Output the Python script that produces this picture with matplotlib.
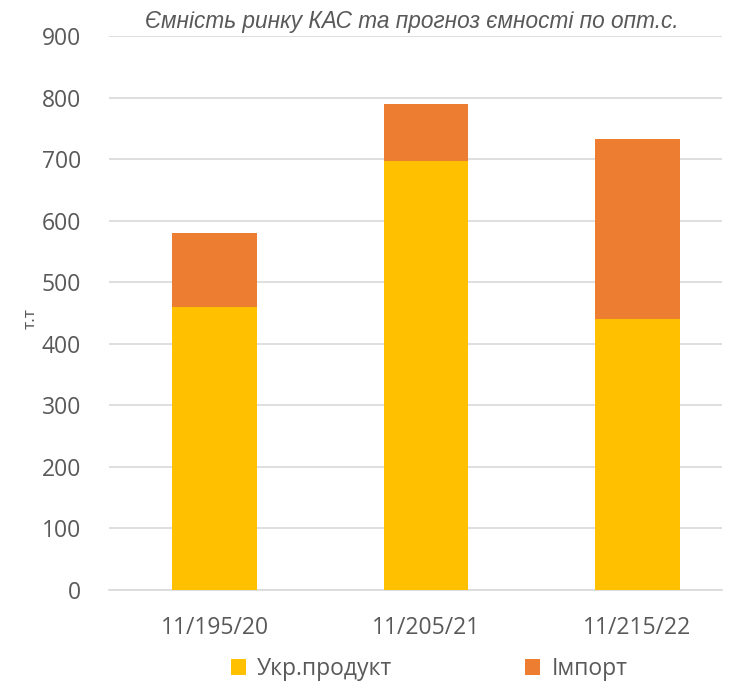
import matplotlib.pyplot as plt
import numpy as np

# chart values
categories = ['11/195/20', '11/205/21', '11/215/22']
ukr_product = [460, 697, 440]
import_vals = [120, 92, 292]
y_ticks = [0, 100, 200, 300, 400, 500, 600, 700, 800, 900]

plt.rcParams['font.family'] = ['Open Sans', 'DejaVu Sans']
text_color = '#595959'

fig = plt.figure(figsize=(7.31, 6.82), dpi=100)
ax = fig.add_axes([109 / 731, 1 - 590 / 682, (722 - 109) / 731, (590 - 36) / 682])

x = np.arange(len(categories))
ax.bar(x, ukr_product, width=0.40, color='#FFC000', label='Укр.продукт', zorder=3)
ax.bar(x, import_vals, width=0.40, bottom=ukr_product, color='#ED7D31', label='Імпорт', zorder=3)

ax.set_ylim(0, 900)
ax.set_xlim(-0.499, 2.40)
ax.set_yticks(y_ticks)
ax.set_xticks(x)
ax.set_xticklabels(categories)
ax.grid(axis='y', color='#D9D9D9', linewidth=1.2, zorder=0)
for s in ['top', 'right', 'left']:
    ax.spines[s].set_visible(False)
ax.spines['bottom'].set_color('#D9D9D9')
ax.spines['bottom'].set_linewidth(1.2)
ax.tick_params(axis='both', length=0, labelsize=16.5, colors=text_color)
ax.tick_params(axis='y', pad=20)
ax.tick_params(axis='x', pad=19)

ax.set_ylabel('т.т', fontsize=12.5, color=text_color, labelpad=8)
ax.yaxis.set_label_coords(-0.115, 0.49)

fig.text(0.563, 0.968, 'Ємність ринку КАС та прогноз ємності по опт.с.',
         ha='center', va='center', fontsize=16.3, style='italic',
         family=['Liberation Sans', 'DejaVu Sans'], color=text_color)

fig.legend(loc='center', bbox_to_anchor=(0.587, 0.019), ncol=2, frameon=False,
           fontsize=16.5, labelcolor=text_color, handlelength=0.65, handleheight=0.65,
           columnspacing=5.8, handletextpad=0.5)

fig.savefig('out.png', dpi=100)
